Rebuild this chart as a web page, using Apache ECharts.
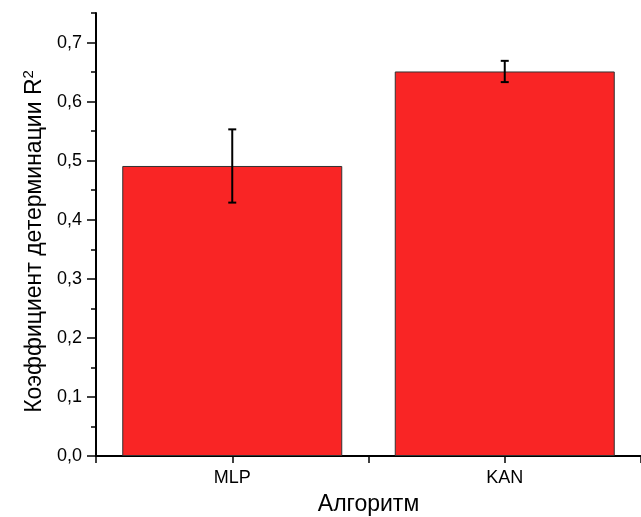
<!DOCTYPE html>
<html><head><meta charset="utf-8">
<script src="https://cdn.jsdelivr.net/npm/echarts@6/dist/echarts.min.js"></script>
<style>html,body{margin:0;padding:0;background:#fff}#c{width:641px;height:517px}</style>
</head><body><div id="c"></div>
<script>
const categories = ['MLP', 'KAN'];
const categoryPos = [1, 2];
const r2Values = [0.491, 0.651];
const r2Errors = [0.062, 0.018];
const yMajorTicks = [0, 0.1, 0.2, 0.3, 0.4, 0.5, 0.6, 0.7];
const yMinorTicks = [0.05, 0.15, 0.25, 0.35, 0.45, 0.55, 0.65, 0.75];
const xTitle = 'Алгоритм';
const yTitle = 'Коэффициент детерминации R{sup|2}';

const chart = echarts.init(document.getElementById('c'), null, {renderer: 'canvas'});
const font = 'Liberation Sans, Arial, sans-serif';
const barData = categoryPos.map((p, i) => [p, r2Values[i]]);
const errData = categoryPos.map((p, i) => [p, r2Values[i] - r2Errors[i], r2Values[i] + r2Errors[i]]);

chart.setOption({
  animation: false,
  grid: {left: 96, right: 0, top: 13, bottom: 61, containLabel: false, outerBoundsMode: 'none'},
  xAxis: {
    type: 'value', min: 0.5, max: 2.5, interval: 0.5,
    name: xTitle, nameLocation: 'middle', nameGap: 37,
    nameTextStyle: {fontFamily: font, fontSize: 23, color: '#000'},
    axisLine: {show: true, lineStyle: {color: '#000', width: 2}},
    axisTick: {show: true, length: 7, lineStyle: {color: '#000', width: 1.5}},
    axisLabel: {customValues: categoryPos, formatter: v => categories[categoryPos.indexOf(v)] || '',
      fontFamily: font, fontSize: 18, color: '#000', margin: 13},
    splitLine: {show: false}
  },
  yAxis: [{
    type: 'value', min: 0, max: 0.75, position: 'left',
    name: yTitle, nameLocation: 'middle', nameGap: 48,
    nameTextStyle: {fontFamily: font, fontSize: 23, color: '#000', padding: [0, 14, 0, 0],
      rich: {sup: {fontFamily: font, fontSize: 15, color: '#000', verticalAlign: 'top', padding: [0,0,12,0]}}},
    axisLine: {show: true, lineStyle: {color: '#000', width: 2}},
    axisTick: {show: true, length: 9, customValues: yMajorTicks, lineStyle: {color: '#000', width: 1.5}},
    axisLabel: {customValues: yMajorTicks, formatter: v => v.toFixed(1).replace('.', ','),
      fontFamily: font, fontSize: 18, color: '#000', margin: 14},
    splitLine: {show: false}
  }, {
    type: 'value', min: 0, max: 0.75, position: 'left',
    axisLine: {show: false},
    axisTick: {show: true, length: 5, customValues: yMinorTicks, lineStyle: {color: '#000', width: 1.5}},
    axisLabel: {show: false},
    splitLine: {show: false}
  }],
  series: [{
    type: 'bar', yAxisIndex: 0, data: barData, barWidth: 220,
    itemStyle: {color: '#F92525', borderColor: '#333', borderWidth: 1}
  }, {
    type: 'custom', yAxisIndex: 0, data: errData, z: 10,
    renderItem: function (params, api) {
      const x = api.value(0);
      const lo = api.coord([x, api.value(1)]);
      const hi = api.coord([x, api.value(2)]);
      const cap = 4;
      const st = {stroke: '#000', lineWidth: 2};
      return {type: 'group', children: [
        {type: 'line', shape: {x1: lo[0], y1: lo[1], x2: hi[0], y2: hi[1]}, style: st},
        {type: 'line', shape: {x1: lo[0]-cap, y1: lo[1], x2: lo[0]+cap, y2: lo[1]}, style: st},
        {type: 'line', shape: {x1: hi[0]-cap, y1: hi[1], x2: hi[0]+cap, y2: hi[1]}, style: st}
      ]};
    }
  }]
});
</script></body></html>
